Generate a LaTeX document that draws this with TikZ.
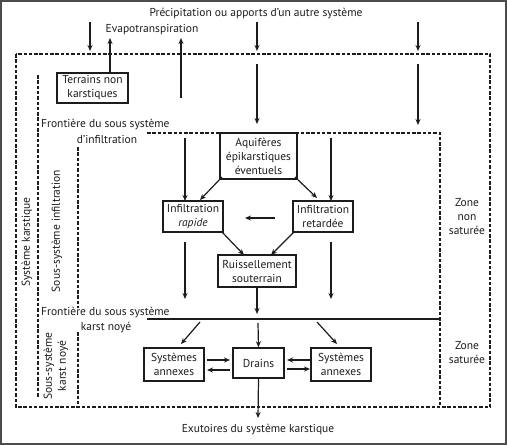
\documentclass[tikz,border=0pt]{standalone}
\usepackage{fontspec}
\setmainfont{PT Sans}
\usetikzlibrary{arrows.meta}
\definecolor{ink}{HTML}{1C1C1C}
\tikzset{
  box/.style={draw=ink, line width=1.6pt, text=ink, align=center, inner sep=1pt, font=\fontsize{11.5}{14}\selectfont},
  lbl/.style={text=ink, align=center, inner sep=0pt, font=\fontsize{11.5}{14}\selectfont},
  arr/.style={draw=ink, line width=1.2pt, -{Stealth[length=6pt,width=5pt]}},
  dsh/.style={draw=ink, line width=1.5pt, dash pattern=on 3.5pt off 1.8pt},
  sol/.style={draw=ink, line width=1.3pt},
}
\begin{document}
\begin{tikzpicture}[x=1pt,y=-1pt]
\useasboundingbox (0,0) rectangle (507,445);
\draw[gray!60!black, line width=2pt] (1,1) rectangle (506,444);

% dashed frames
\draw[dsh] (16,54) rectangle (490,407);
\draw[dsh] (38,75) -- (38,398);
\draw[dsh] (147,133) -- (440,133) -- (440,407);
\draw[dsh] (78,147) -- (78,308);
\draw[dsh] (78,332) -- (78,407);
\draw[sol] (147,319) -- (440,319);

% boxes
\node[box, minimum width=71pt, minimum height=30pt, fill=white] (terr) at (92.5,88) {Terrains non\\karstiques};
\node[box, minimum width=77pt, minimum height=46pt, fill=white] (aq) at (258.5,156) {Aquifères\\épikarstiques\\éventuels};
\node[box, minimum width=60pt, minimum height=31pt] (rap) at (193,216.5) {Infiltration\\\itshape rapide};
\node[box, minimum width=60pt, minimum height=31pt] (ret) at (323,216.5) {Infiltration\\retardée};
\node[box, minimum width=78pt, minimum height=32pt] (ruis) at (257,271) {Ruissellement\\souterrain};
\node[box, minimum width=51pt, minimum height=30pt] (drains) at (258.5,363) {Drains};
\node[box, minimum width=60pt, minimum height=33pt] (annL) at (174,364.5) {Systèmes\\annexes};
\node[box, minimum width=60pt, minimum height=33pt] (annR) at (341,364.5) {Systèmes\\annexes};

% texts
\node[lbl] (title) at (256,14) {Précipitation ou apports d'un autre système};
\node[lbl] (evap) at (152,30) {Evapotranspiration};
\node[lbl, anchor=west] (fr1) at (41,125) {Frontière du sous système};
\node[lbl] (fr1b) at (107,139) {d'infiltration};
\node[lbl, anchor=west] (fr2) at (41,313) {Frontière du sous système};
\node[lbl] (fr2b) at (106,328) {karst noyé};
\node[lbl, rotate=90] (sk) at (27,242) {Système karstique};
\node[lbl, rotate=90] (ssi) at (57,231) {Sous-système infiltration};
\node[lbl, rotate=90] (ssk) at (56,366) {Sous-système\\karst noyé};
\node[lbl] (zns) at (467,217) {Zone\\non\\saturée};
\node[lbl] (zs) at (467,353) {Zone\\saturée};
\node[lbl] (exu) at (258,430) {Exutoires du système karstique};

% coordinates
\coordinate (p1a) at (90,22);  \coordinate (p1b) at (90,51);
\coordinate (p2a) at (257,22); \coordinate (p2b) at (257,51);
\coordinate (p3a) at (418,22); \coordinate (p3b) at (418,51);
\coordinate (q2a) at (257,64); \coordinate (q2b) at (257,124);
\coordinate (q3a) at (418,64); \coordinate (q3b) at (418,125);
\coordinate (e1a) at (110,73); \coordinate (e1b) at (110,38);
\coordinate (e2a) at (181,98); \coordinate (e2b) at (181,38);
\coordinate (r1a) at (185,138); \coordinate (r1b) at (185,201);
\coordinate (r2a) at (331,138); \coordinate (r2b) at (331,201);
\coordinate (d1a) at (222,177); \coordinate (d1b) at (200,200);
\coordinate (d2a) at (295,177); \coordinate (d2b) at (317,198);
\coordinate (d3a) at (222,232); \coordinate (d3b) at (244,255);
\coordinate (d4a) at (294,232); \coordinate (d4b) at (271,255);
\coordinate (hra) at (275,218); \coordinate (hrb) at (245,218);
\coordinate (v1a) at (185,242); \coordinate (v1b) at (185,299);
\coordinate (v2a) at (331,242); \coordinate (v2b) at (331,299);
\coordinate (v3b) at (257,314);
\coordinate (n0a) at (258,323);
\coordinate (n1a) at (200,322); \coordinate (n1b) at (181,344);
\coordinate (n2a) at (317,322); \coordinate (n2b) at (337,344);
\coordinate (a1a) at (207,360); \coordinate (a1b) at (230,360);
\coordinate (a2a) at (230,370); \coordinate (a2b) at (207,370);
\coordinate (a3a) at (310,360); \coordinate (a3b) at (287,360);
\coordinate (a4a) at (287,369); \coordinate (a4b) at (310,369);
\coordinate (ex) at (258,418);

% arrows
\draw[arr] (p1a) -- (p1b);
\draw[arr] (p2a) -- (p2b);
\draw[arr] (p3a) -- (p3b);
\draw[arr] (q2a) -- (q2b);
\draw[arr] (q3a) -- (q3b);
\draw[arr] (e1a) -- (e1b);
\draw[arr] (e2a) -- (e2b);
\draw[arr] (r1a) -- (r1b);
\draw[arr] (r2a) -- (r2b);
\draw[arr] (d1a) -- (d1b);
\draw[arr] (d2a) -- (d2b);
\draw[arr] (d3a) -- (d3b);
\draw[arr] (d4a) -- (d4b);
\draw[arr] (hra) -- (hrb);
\draw[arr] (v1a) -- (v1b);
\draw[arr] (v2a) -- (v2b);
\draw[arr] (ruis.south) -- (v3b);
\draw[arr] (n0a) -- (drains.north);
\draw[arr] (n1a) -- (n1b);
\draw[arr] (n2a) -- (n2b);
\draw[arr] (a1a) -- (a1b);
\draw[arr] (a2a) -- (a2b);
\draw[arr] (a3a) -- (a3b);
\draw[arr] (a4a) -- (a4b);
\draw[arr] (drains.south) -- (ex);
\end{tikzpicture}
\end{document}
